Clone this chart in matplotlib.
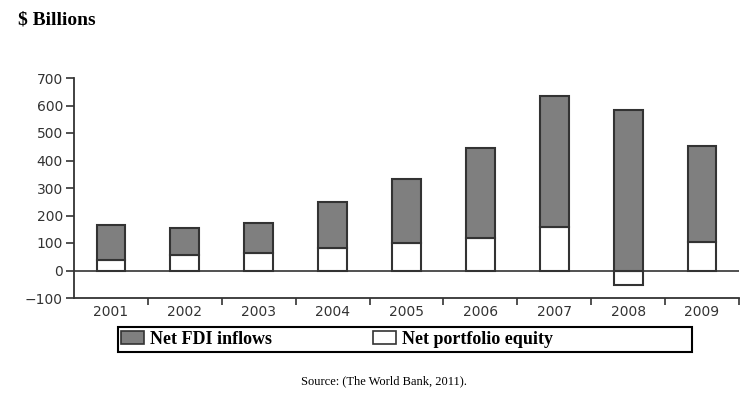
import numpy as np
import matplotlib
matplotlib.use("Agg")
import matplotlib.pyplot as plt
from matplotlib.patches import Patch, Rectangle

# values ($ billions)
years = ["2001", "2002", "2003", "2004", "2005", "2006", "2007", "2008", "2009"]
portfolio_equity = [40, 57, 62, 81, 100, 118, 160, -52, 102]
net_fdi = [124, 98, 112, 169, 231, 326, 476, 583, 351]
y_ticks = [-100, 0, 100, 200, 300, 400, 500, 600, 700]

gray = "#7f7f7f"
edge = "#333333"
W, H = 755, 394

fig = plt.figure(figsize=(7.55, 3.94), dpi=100)
ax = fig.add_axes([74/W, 96/H, 665/W, 220/H])

x = np.arange(len(years))
eq = np.array(portfolio_equity)
ax.axhline(0, color=edge, lw=1.2, zorder=1)
ax.bar(x, eq, width=0.39, color="white", edgecolor=edge, lw=1.5, zorder=2)
ax.bar(x, net_fdi, width=0.39, bottom=np.maximum(eq, 0), color=gray,
       edgecolor=edge, lw=1.5, zorder=2)

ax.set_xlim(-0.5, len(years) - 0.5)
ax.set_ylim(-100, 700)
ax.set_yticks(y_ticks)
ax.set_yticklabels([str(v).replace("-", "\u2212") for v in y_ticks])
ax.set_xticks(x)
ax.set_xticklabels(years)
ax.set_xticks(np.arange(0.5, len(years), 1.0), minor=True)
ax.tick_params(axis="x", which="major", length=0, pad=5)
ax.tick_params(axis="x", which="minor", length=5, width=1.2, color=edge, direction="out")
ax.tick_params(axis="y", length=6, width=1.2, color=edge, pad=2)
for lab in ax.get_xticklabels() + ax.get_yticklabels():
    lab.set_family("DejaVu Sans")
    lab.set_fontsize(10)
    lab.set_color("#333333")

for s in ["top", "right"]:
    ax.spines[s].set_visible(False)
for s in ["left", "bottom"]:
    ax.spines[s].set_color(edge)
    ax.spines[s].set_linewidth(1.3)

# legend box drawn separately so it spans the full width
fig.patches.append(Rectangle((118/W, 1 - 352/H), 574/W, 25/H, transform=fig.transFigure,
                             facecolor="white", edgecolor="black", lw=1.5, zorder=0))
handles = [Patch(facecolor=gray, edgecolor=edge, lw=1.2, label="Net FDI inflows"),
           Patch(facecolor="white", edgecolor=edge, lw=1.2, label="Net portfolio equity")]
leg = fig.legend(handles=handles, ncol=2, loc="center left",
                 bbox_to_anchor=(121/W, 1 - 339.5/H), frameon=False,
                 borderaxespad=0, borderpad=0, columnspacing=5.6,
                 handlelength=1.3, handleheight=0.7, handletextpad=0.3,
                 prop={"family": "Liberation Serif", "weight": "bold", "size": 13})

fig.text(18/W, 1 - 20/H, "\\$ Billions", family="Liberation Serif", weight="bold",
         fontsize=14, va="center", ha="left")
fig.text(384/W, 1 - 381/H, "Source: (The World Bank, 2011).", family="Liberation Serif",
         fontsize=9, va="center", ha="center")

fig.savefig("out.png", dpi=100)
